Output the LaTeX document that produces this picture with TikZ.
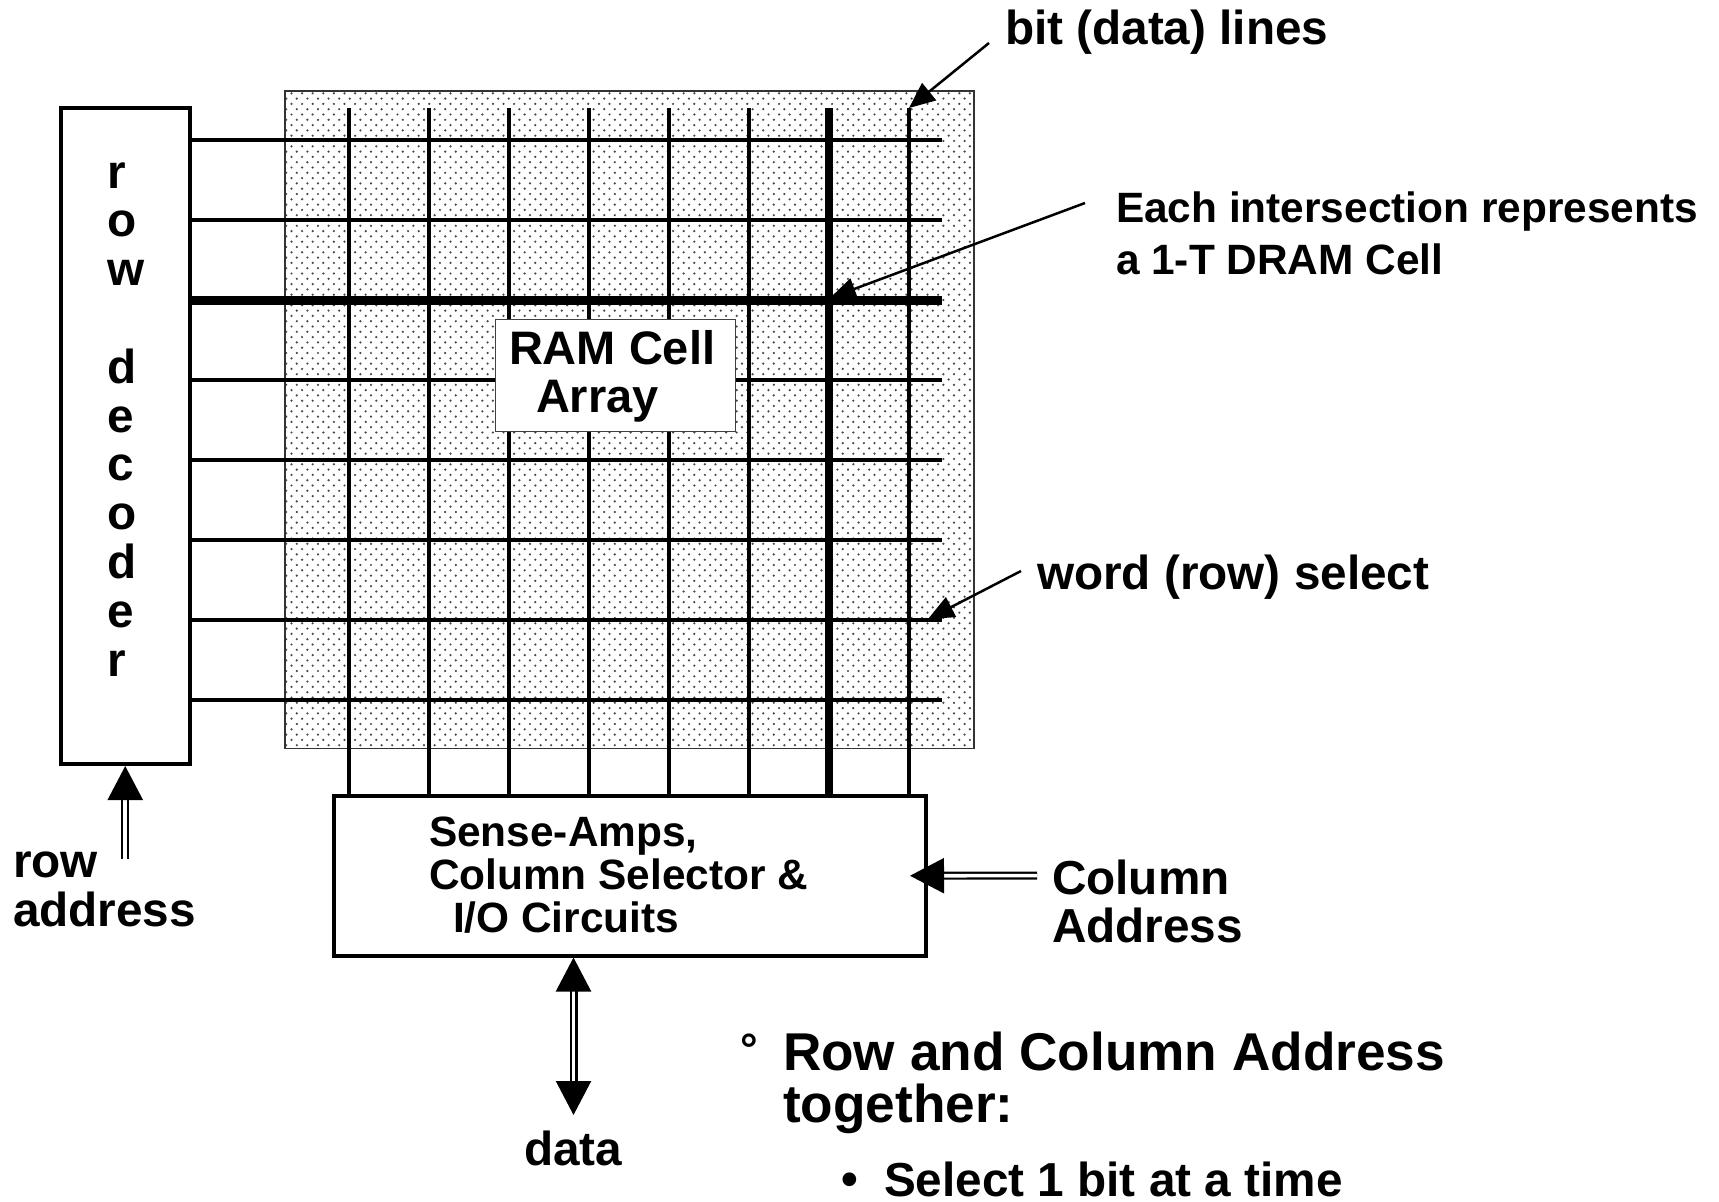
\documentclass[tikz,border=0pt]{standalone}
\usepackage{fontspec}
\setmainfont{Liberation Sans}
\usetikzlibrary{arrows.meta,patterns,calc}

% staggered dot screen for the cell array
\pgfdeclarepatternformonly{celldots}{\pgfqpoint{-0.8pt}{-0.8pt}}{\pgfqpoint{3.5pt}{3.5pt}}{\pgfqpoint{5.3pt}{5.3pt}}{%
  \pgfpathcircle{\pgfqpoint{0pt}{0pt}}{0.62pt}%
  \pgfpathcircle{\pgfqpoint{2.65pt}{2.65pt}}{0.62pt}%
  \pgfusepath{fill}}

\tikzset{
  txt/.style={anchor=base west, inner sep=0pt, outer sep=0pt,
    font=\bfseries\fontsize{23.85pt}{28pt}\selectfont},
  txtsm/.style={txt, font=\bfseries\fontsize{21.2pt}{25pt}\selectfont},
  txtlg/.style={txt, font=\bfseries\fontsize{26.6pt}{31pt}\selectfont},
  heavybox/.style={draw, line width=2pt, fill=white, inner sep=0pt},
  wordline/.style={line width=2pt},
  wordsel/.style={line width=4.5pt},
  bitline/.style={line width=2.15pt},
  bitsel/.style={line width=4pt},
  ann/.style={line width=1.25pt, -{Triangle[length=13pt,width=11pt]}},
  dbl/.style={double, double distance=1.8pt, line width=1.1pt},
  bighead/.tip={Triangle[length=17pt,width=17.5pt]}
}

\begin{document}
\begin{tikzpicture}[x=0.5pt,y=-0.5pt]
  \fill[white] (0,0) rectangle (1719,1201);
  \useasboundingbox (0,0) rectangle (1719,1201);

  % cell array background
  \node[draw=black!80, line width=0.75pt, fill=white, pattern=celldots, pattern color=black!72,
        minimum width=344.5pt, minimum height=328.75pt, inner sep=0pt] (array) at (629.5,419.75) {};

  % bit (data) lines
  \foreach \k in {0,1,2,3,4,5,7}
    \draw[bitline] (349+80*\k,108) -- (349+80*\k,796);
  \draw[bitsel] (829,108) -- (829,796);

  % word (row) select lines
  \foreach \k in {0,1,3,4,5,6,7}
    \draw[wordline] (189.5,140+80*\k) -- (942,140+80*\k);
  \draw[wordsel] (189.5,300) -- (942,300);

  % array caption
  \node[draw=black!75, line width=0.5pt, fill=white, minimum width=120pt, minimum height=56pt,
        inner sep=0pt] (ramcell) at (615,375) {};
  \node[txt, font=\bfseries\fontsize{23.5pt}{28pt}\selectfont] (ram1) at (509,364) {RAM Cell};
  \node[txt, font=\bfseries\fontsize{23.5pt}{28pt}\selectfont] (ram2) at (536,412) {Array};

  % row decoder
  \node[heavybox, minimum width=64.25pt, minimum height=328.25pt] (dec) at (125.25,435.75) {};
  \foreach \k/\c in {0/r,1/o,2/w,4/d,5/e,6/c,7/o,8/d,9/e,10/r}
    \node[txt] (rd\k) at (107.5,188+48.8*\k) {\c};

  % sense amplifiers / column selector
  \node[heavybox, minimum width=296pt, minimum height=79.75pt] (sa) at (629.5,875.75) {};
  \node[txtsm] (sa1) at (429,846) {Sense-Amps,};
  \node[txtsm] (sa2) at (429,889) {Column Selector \&};
  \node[txtsm] (sa3) at (453,932) {I/O Circuits};

  % labels
  \node[txt] (bitl) at (1005,44) {bit (data) lines};
  \node[txtsm] (each1) at (1116,222.5) {Each intersection represents};
  \node[txtsm] (each2) at (1116,274) {a 1-T DRAM Cell};
  \node[txt] (wsel) at (1037,589) {word (row) select};
  \node[txt] (ra1) at (13,877) {row};
  \node[txt] (ra2) at (13,926) {address};
  \node[txt] (ca1) at (1052,894.6) {Column};
  \node[txt] (ca2) at (1052,942.8) {Address};
  \node[txt] (dat) at (524,1165) {data};

  % notes
  \node[txt, font=\bfseries\fontsize{22pt}{26pt}\selectfont] (deg) at (740,1064) {°};
  \node[txtlg] (rc1) at (783,1070) {Row and Column Address};
  \node[txtlg] (rc2) at (783,1122) {together:};
  \node[txt] (dot) at (841,1195) {•};
  \node[txt] (sel) at (884,1196) {Select 1 bit at a time};

  % connector end points
  \coordinate (bltop) at (909,108);
  \coordinate (cell) at (830,298);
  \coordinate (wltip) at (928,619);
  \coordinate (rain) at (125.25,859);
  \coordinate (dout) at (573.5,1115);
  \coordinate (catip) at ($(sa.east)+(-17.5,0)$);

  % annotation arrows
  \draw[ann] ($(bitl.base west)+(-16,-1)$) -- (bltop);
  \draw[ann] ($(each1.base west)+(-31,-19.5)$) -- (cell);
  \draw[ann] ($(wsel.base west)+(-16,-18)$) -- (wltip);

  % address and data paths
  \draw[dbl, -bighead] (rain) -- (rain |- dec.south);
  \draw[dbl, -bighead] ($(ca1.base west)+(-15,-19)$) -- (catip);
  \draw[dbl, bighead-bighead] (sa.south -| dout) -- (dout);
\end{tikzpicture}
\end{document}
